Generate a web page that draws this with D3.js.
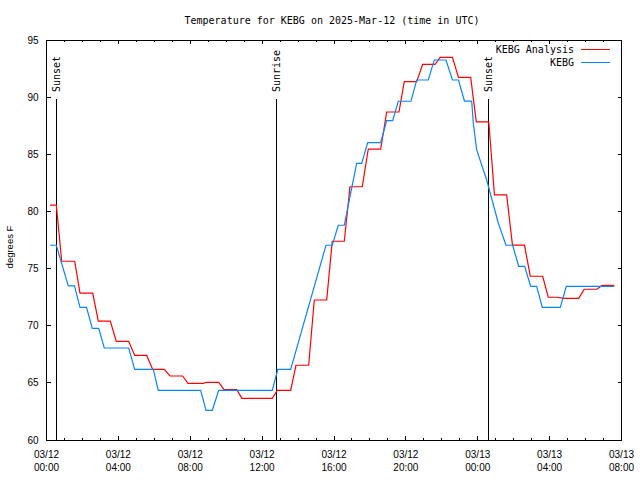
<!DOCTYPE html>
<html>
<head>
<meta charset="utf-8">
<script src="https://cdn.jsdelivr.net/npm/d3@7"></script>
<style>
  html, body { margin: 0; padding: 0; background: #fff; }
  svg { display: block; }
</style>
</head>
<body>
<svg id="chart" width="640" height="480"></svg>
<script>
// ---------- data (hours since 2025-03-12 00:00 UTC, degrees F) ----------
const titleText = "Temperature for KEBG on 2025-Mar-12 (time in UTC)";
const yLabelText = "degrees F";
const seriesNames = ["KEBG Analysis", "KEBG"];

const analysisHours = [0.195, 0.545, 0.846, 1.569, 1.864, 2.571, 2.883, 3.550, 3.884, 4.574, 4.908, 5.576, 5.910, 6.555, 6.872, 7.579, 7.874, 8.726, 8.90, 9.583, 9.878, 10.584, 10.879, 12.565, 12.844, 13.589, 13.884, 14.591, 14.903, 15.593, 15.904, 16.572, 16.889, 17.574, 17.908, 18.598, 18.932, 19.616, 19.911, 20.601, 20.935, 21.619, 21.914, 22.593, 22.927, 23.606, 23.918, 24.613, 24.930, 25.609, 25.932, 26.600, 26.923, 27.613, 27.924, 28.40, 28.815, 29.616, 29.928, 30.634, 30.929, 31.597];
const analysisTemps = [80.56, 80.56, 75.64, 75.64, 72.86, 72.86, 70.41, 70.41, 68.63, 68.63, 67.40, 67.40, 66.18, 66.18, 65.60, 65.60, 64.96, 64.96, 65.05, 65.05, 64.40, 64.40, 63.65, 63.65, 64.35, 64.35, 66.54, 66.54, 72.25, 72.25, 77.39, 77.39, 82.16, 82.16, 85.46, 85.46, 88.70, 88.70, 91.35, 91.35, 92.87, 92.87, 93.48, 93.48, 91.73, 91.73, 87.83, 87.83, 81.44, 81.44, 77.06, 77.06, 74.33, 74.33, 72.49, 72.49, 72.40, 72.40, 73.19, 73.19, 73.53, 73.53];

const obsHours = [0.195, 0.545, 1.213, 1.558, 1.864, 2.226, 2.549, 2.905, 3.216, 4.574, 4.908, 5.943, 6.221, 8.581, 8.876, 9.227, 9.583, 12.565, 12.871, 13.589, 15.554, 15.904, 16.238, 16.572, 17.262, 17.540, 17.874, 18.598, 18.932, 19.265, 19.577, 20.284, 20.601, 21.247, 21.580, 22.231, 22.593, 22.927, 23.261, 23.662, 23.751, 23.940, 24.497, 25.142, 25.571, 25.943, 26.277, 26.611, 26.945, 27.279, 27.591, 28.593, 28.927, 31.597];
const obsTemps = [77.04, 77.04, 73.48, 73.48, 71.61, 71.61, 69.77, 69.77, 68.05, 68.05, 66.18, 66.18, 64.35, 64.35, 62.60, 62.60, 64.35, 64.35, 66.18, 66.18, 77.04, 77.04, 78.79, 78.79, 84.21, 84.21, 86.02, 86.02, 87.94, 87.94, 89.64, 89.64, 91.50, 91.50, 93.25, 93.25, 91.50, 91.50, 89.66, 89.66, 87.74, 85.38, 82.75, 78.99, 77.04, 77.04, 75.20, 75.20, 73.45, 73.45, 71.61, 71.61, 73.45, 73.45];

const eventHours = [0.545, 12.80, 24.586];
const eventLabels = ["Sunset", "Sunrise", "Sunset"];

const yTicks = [60, 65, 70, 75, 80, 85, 90, 95];

// ---------- layout ----------
(function () {
const svg = d3.select("#chart");
const W = 640, H = 480;
const pL = 46.5, pR = 621.5, pT = 40, pB = 440;
const t0 = Date.UTC(2025, 2, 12, 0, 0);
const toDate = h => new Date(t0 + h * 3600000);

const x = d3.scaleUtc().domain([toDate(0), toDate(32)]).range([pL, pR]);
const y = d3.scaleLinear().domain([60, 95]).range([pB, pT]);

const monoFont = "'DejaVu Sans Mono', 'Liberation Mono', monospace";
const sansFont = "'Liberation Sans', Arial, sans-serif";
const red = "#ff0000", blue = "#0a84ff";

svg.append("rect").attr("width", W).attr("height", H).attr("fill", "#fff");

// title
svg.append("text")
  .attr("x", 332).attr("y", 24)
  .attr("text-anchor", "middle")
  .attr("font-family", monoFont).attr("font-size", 10)
  .text(titleText);

// y label
svg.append("text")
  .attr("transform", "translate(13,247) rotate(-90)")
  .attr("text-anchor", "middle")
  .attr("font-family", sansFont).attr("font-size", 9.5)
  .text(yLabelText);

// axes ticks
const hourTicks = x.ticks(d3.utcHour.every(1));
const majorTicks = x.ticks(d3.utcHour.every(4));
const gAx = svg.append("g").attr("shape-rendering", "crispEdges").attr("stroke", "#000").attr("stroke-width", 1);

hourTicks.forEach(d => {
  const isMajor = d.getUTCHours() % 4 === 0;
  const len = isMajor ? 4 : 2;
  gAx.append("line").attr("x1", x(d)).attr("x2", x(d)).attr("y1", pB).attr("y2", pB - len);
  gAx.append("line").attr("x1", x(d)).attr("x2", x(d)).attr("y1", pT).attr("y2", pT + len);
});
yTicks.forEach(v => {
  gAx.append("line").attr("x1", pL).attr("x2", pL + 4).attr("y1", y(v)).attr("y2", y(v));
  gAx.append("line").attr("x1", pR).attr("x2", pR - 4).attr("y1", y(v)).attr("y2", y(v));
});

// y tick labels
svg.append("g").selectAll("text").data(yTicks).join("text")
  .attr("x", 38.5).attr("y", d => y(d)).attr("dy", "0.35em")
  .attr("text-anchor", "end")
  .attr("font-family", sansFont).attr("font-size", 10)
  .text(d => d);

// x tick labels (two lines)
const fmtDate = d3.utcFormat("%m/%d");
const fmtTime = d3.utcFormat("%H:%M");
const xl = svg.append("g").attr("font-family", sansFont).attr("font-size", 10).attr("text-anchor", "middle");
majorTicks.forEach(d => {
  xl.append("text").attr("x", x(d)).attr("y", 458).text(fmtDate(d));
  xl.append("text").attr("x", x(d)).attr("y", 471).text(fmtTime(d));
});

// sunrise/sunset markers
const ev = svg.append("g");
eventHours.forEach((h, i) => {
  const xx = x(toDate(h));
  ev.append("line").attr("x1", xx).attr("x2", xx).attr("y1", pB).attr("y2", 99)
    .attr("stroke", "#000").attr("shape-rendering", "crispEdges");
  ev.append("text")
    .attr("transform", `translate(${xx},92) rotate(-90)`)
    .attr("dy", "0.35em")
    .attr("font-family", monoFont).attr("font-size", 10)
    .text(eventLabels[i]);
});

// series lines
const line = d3.line().x(d => x(toDate(d[0]))).y(d => y(d[1]));
const analysisData = analysisHours.map((h, i) => [h, analysisTemps[i]]);
const obsData = obsHours.map((h, i) => [h, obsTemps[i]]);

svg.append("path").datum(analysisData).attr("d", line)
  .attr("fill", "none").attr("stroke", red).attr("stroke-width", 1.2);
svg.append("path").datum(obsData).attr("d", line)
  .attr("fill", "none").attr("stroke", blue).attr("stroke-width", 1.2);

// border
svg.append("rect").attr("x", pL).attr("y", pT).attr("width", pR - pL).attr("height", pB - pT)
  .attr("fill", "none").attr("stroke", "#000").attr("shape-rendering", "crispEdges");

// legend
const lg = svg.append("g").attr("font-family", monoFont).attr("font-size", 10);
[red, blue].forEach((c, i) => {
  const yy = 49.5 + i * 12.5;
  lg.append("text").attr("x", 574).attr("y", yy).attr("dy", "0.35em").attr("text-anchor", "end").text(seriesNames[i]);
  lg.append("line").attr("x1", 581).attr("x2", 610).attr("y1", yy).attr("y2", yy)
    .attr("stroke", c).attr("stroke-width", 1).attr("shape-rendering", "crispEdges");
});
})();
</script>
</body>
</html>
